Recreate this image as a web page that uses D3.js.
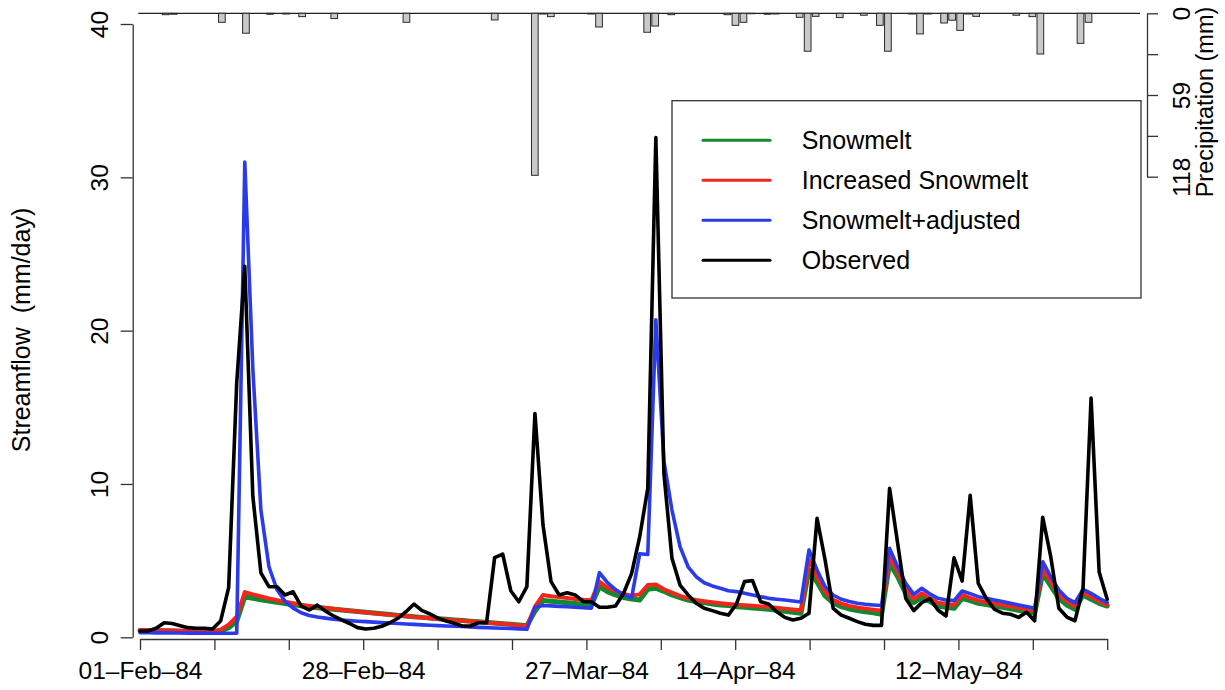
<!DOCTYPE html>
<html>
<head>
<meta charset="utf-8">
<script src="https://cdn.jsdelivr.net/npm/d3@7"></script>
<style>
	body { margin: 0; background: #fff; }
	svg { display: block; font-family: "Liberation Sans", Arial, Helvetica, sans-serif; }
	svg text { white-space: pre; }
	.axis path, .axis line { stroke: #333; stroke-width: 1.3; }
	.axis text { fill: #000; font-size: 24.5px; }
	.flow { fill: none; stroke-linejoin: round; stroke-linecap: round; }
</style>
</head>
<body>
<svg id="chart" width="1225" height="690"></svg>
<script>
// daily streamflow, 01-Feb-84 .. 31-May-84 (mm/day)
var observed = [
	0.41, 0.41, 0.59, 0.95, 0.90, 0.76, 0.63, 0.59, 0.59, 0.54,
	1.06, 3.24, 16.6, 24.2, 9.2, 4.2, 3.3, 3.3, 2.76, 2.97,
	2.04, 1.78, 2.10, 1.72, 1.39, 1.13, 0.90, 0.63, 0.54, 0.59,
	0.72, 0.95, 1.24, 1.67, 2.17, 1.74, 1.52, 1.24, 1.06, 0.91,
	0.74, 0.74, 0.95, 0.95, 5.2, 5.43, 3.04, 2.32, 3.3, 14.6,
	7.32, 3.63, 2.76, 2.91, 2.76, 2.32, 2.32, 1.96, 1.96, 2.04,
	2.87, 4.17, 6.56, 9.72, 32.6, 10.7, 5.15, 3.41, 2.76, 2.22,
	1.89, 1.74, 1.57, 1.45, 2.17, 3.63, 3.70, 2.32, 2.17, 1.67,
	1.30, 1.13, 1.24, 1.57, 7.76, 5.04, 1.89, 1.45, 1.24, 1.02,
	0.85, 0.78, 0.78, 9.72, 6.13, 2.54, 1.74, 2.26, 2.52, 1.78,
	1.39, 5.19, 3.67, 9.26, 3.52, 2.54, 1.83, 1.57, 1.50, 1.30,
	1.63, 1.08, 7.83, 5.24, 1.89, 1.32, 1.08, 3.2, 15.6, 4.26,
	2.48
];

var snowmelt = [
	0.45, 0.44, 0.43, 0.42, 0.41, 0.40, 0.39, 0.38, 0.37, 0.36,
	0.40, 0.62, 1.05, 2.65, 2.55, 2.45, 2.36, 2.28, 2.20, 2.12,
	2.05, 1.99, 1.93, 1.88, 1.83, 1.78, 1.73, 1.68, 1.63, 1.58,
	1.53, 1.48, 1.43, 1.39, 1.34, 1.30, 1.25, 1.21, 1.17, 1.13,
	1.09, 1.05, 1.01, 0.97, 0.93, 0.89, 0.85, 0.81, 0.76, 1.70,
	2.40, 2.35, 2.30, 2.25, 2.20, 2.15, 2.10, 3.30, 2.98, 2.76,
	2.60, 2.50, 2.43, 3.13, 3.20, 3.00, 2.76, 2.59, 2.43, 2.33,
	2.26, 2.17, 2.11, 2.07, 2.00, 1.96, 1.91, 1.87, 1.83, 1.76,
	1.70, 1.63, 1.57, 4.40, 3.60, 2.70, 2.25, 2.00, 1.85, 1.75,
	1.66, 1.60, 1.50, 4.83, 3.95, 2.87, 2.26, 2.60, 2.33, 2.04,
	1.96, 1.89, 2.54, 2.39, 2.22, 2.13, 2.04, 1.95, 1.86, 1.76,
	1.66, 1.57, 4.17, 3.35, 2.54, 2.11, 1.83, 2.76, 2.48, 2.22,
	2.04
];

var increasedSnowmelt = [
	0.48, 0.47, 0.46, 0.45, 0.44, 0.43, 0.42, 0.41, 0.40, 0.40,
	0.50, 0.82, 1.35, 2.95, 2.80, 2.66, 2.53, 2.42, 2.32, 2.22,
	2.12, 2.05, 1.98, 1.92, 1.86, 1.80, 1.74, 1.68, 1.62, 1.57,
	1.52, 1.47, 1.42, 1.38, 1.33, 1.29, 1.24, 1.20, 1.16, 1.12,
	1.08, 1.04, 1.00, 0.96, 0.92, 0.88, 0.83, 0.78, 0.70, 2.00,
	2.76, 2.68, 2.62, 2.56, 2.50, 2.45, 2.42, 3.63, 3.24, 3.02,
	2.82, 2.72, 2.80, 3.41, 3.45, 3.13, 2.91, 2.70, 2.54, 2.43,
	2.35, 2.28, 2.22, 2.17, 2.13, 2.09, 2.05, 2.01, 1.97, 1.92,
	1.87, 1.82, 1.76, 5.04, 3.95, 2.95, 2.45, 2.20, 2.05, 1.95,
	1.87, 1.80, 1.74, 5.26, 4.28, 3.20, 2.50, 2.87, 2.54, 2.26,
	2.17, 2.11, 2.76, 2.57, 2.39, 2.29, 2.20, 2.11, 2.02, 1.93,
	1.83, 1.74, 4.50, 3.63, 2.80, 2.33, 2.04, 2.91, 2.65, 2.37,
	2.11
];

var snowmeltAdjusted = [
	0.30, 0.30, 0.29, 0.29, 0.28, 0.28, 0.27, 0.27, 0.27, 0.26,
	0.26, 0.26, 0.26, 31.0, 17.5, 8.3, 4.6, 3.1, 2.35, 1.90,
	1.60, 1.42, 1.32, 1.25, 1.18, 1.13, 1.09, 1.05, 1.02, 0.99,
	0.96, 0.93, 0.90, 0.87, 0.84, 0.81, 0.79, 0.76, 0.74, 0.72,
	0.70, 0.67, 0.65, 0.63, 0.61, 0.59, 0.57, 0.55, 0.52, 1.96,
	2.07, 2.05, 2.02, 1.99, 1.96, 1.93, 1.90, 4.21, 3.56, 3.11,
	2.76, 2.60, 5.45, 5.40, 20.7, 11.5, 8.3, 5.91, 4.60, 3.95,
	3.56, 3.35, 3.20, 3.04, 2.98, 2.87, 2.76, 2.65, 2.54, 2.48,
	2.43, 2.37, 2.30, 5.70, 4.39, 3.30, 2.76, 2.48, 2.33, 2.22,
	2.15, 2.11, 2.07, 5.80, 4.60, 3.52, 2.80, 3.20, 2.83, 2.54,
	2.43, 2.39, 3.02, 2.85, 2.65, 2.55, 2.44, 2.33, 2.22, 2.11,
	2.00, 1.89, 4.93, 3.95, 3.09, 2.54, 2.26, 3.13, 2.87, 2.54,
	2.26
];

// daily precipitation (mm), drawn hanging from the top
var precipitation = [
	0, 0, 0, 1.0, 0.7, 0, 0, 0, 0, 0,
	6.5, 0, 0, 14.4, 0, 0, 0.7, 0, 0.5, 0,
	2.4, 0, 0, 0, 3.8, 0, 0, 0, 0, 0,
	0, 0, 0, 6.5, 0, 0, 0, 0, 0, 0,
	0, 0, 0, 0, 4.8, 0, 0, 0, 0, 117,
	0.5, 2.4, 0, 0, 0, 0, 0.5, 9.9, 0, 0,
	0, 0, 0, 13.7, 9.2, 0, 1.0, 0, 0, 0,
	0, 0, 0, 1.0, 8.7, 6.5, 0.3, 0, 0.7, 0.5,
	0, 0, 2.9, 27.4, 2.2, 0, 0, 3.1, 0, 0,
	1.4, 0, 8.7, 27.4, 0, 0, 0.5, 14.9, 0.5, 0,
	7.0, 5.0, 12.3, 0.5, 2.2, 0, 0, 0, 0, 1.4,
	0, 2.4, 29.4, 0, 0, 0, 0, 21.7, 6.5, 0,
	0, 0, 0, 0, 0
];

var dateTickLabels = ['01\u2013Feb\u201384', '', '', '28\u2013Feb\u201384', '', '', '27\u2013Mar\u201384',
	'', '14\u2013Apr\u201384', '', '', '12\u2013May\u201384', '', ''];
var flowTicks = [0, 10, 20, 30, 40];
var precipTicks = [0, 29.5, 59, 88.5, 118];
var precipTickLabels = ['0', '', '59', '', '118'];

var seriesNames = ['Snowmelt', 'Increased Snowmelt', 'Snowmelt+adjusted', 'Observed'];
var seriesColors = ['#12892f', '#f5251c', '#2b3bec', '#000000'];
var seriesWidths = [5, 4, 3.6, 3.6];

window.onload = function() {
	var svg = d3.select('#chart');
	svg.append('rect').attr('width', 1225).attr('height', 690).attr('fill', '#fff');

	var lastDay = observed.length - 1;
	var x = d3.scaleLinear().domain([0, lastDay]).range([140, 1107.2]);
	var y = d3.scaleLinear().domain([0, 40]).range([637.3, 24]);

	var barX = d3.scaleBand()
		.domain(d3.range(precipitation.length))
		.range([138.3, 1140])
		.paddingInner(1 / 6)
		.paddingOuter(0);
	var barY = d3.scaleLinear().domain([0, 118]).range([13.3, 176.7]);

	// x ticks: 14 evenly spaced dates over the record
	var tickDays = dateTickLabels.map(function(d, i) {
		return i * lastDay / (dateTickLabels.length - 1);
	});

	var xAxis = svg.append('g').attr('class', 'axis')
		.attr('transform', 'translate(0,639)')
		.call(d3.axisBottom(x).tickValues(tickDays).tickSize(11).tickSizeOuter(0)
			.tickFormat(function(d, i) { return dateTickLabels[i]; }));
	xAxis.selectAll('text').attr('y', 40).attr('dy', 0);

	var yAxis = svg.append('g').attr('class', 'axis')
		.attr('transform', 'translate(132.7,0)')
		.call(d3.axisLeft(y).tickValues(flowTicks).tickSize(12).tickSizeOuter(0));
	yAxis.selectAll('text')
		.attr('x', 0).attr('dy', 0)
		.attr('text-anchor', 'middle')
		.attr('transform', 'translate(-25,0) rotate(-90)');

	var pAxis = svg.append('g').attr('class', 'axis')
		.attr('transform', 'translate(1147,0)')
		.call(d3.axisRight(barY).tickValues(precipTicks).tickSize(11).tickSizeOuter(0)
			.tickFormat(function(d, i) { return precipTickLabels[i]; }));
	pAxis.selectAll('text')
		.attr('x', 0).attr('dy', 0)
		.attr('text-anchor', 'middle')
		.attr('transform', 'translate(43,0) rotate(-90)');

	svg.append('text')
		.attr('transform', 'translate(30,330) rotate(-90)')
		.attr('text-anchor', 'middle')
		.attr('font-size', 25)
		.text('Streamflow  (mm/day)');

	svg.append('text')
		.attr('transform', 'translate(1213,102) rotate(-90)')
		.attr('text-anchor', 'middle')
		.attr('font-size', 23.5)
		.text('Precipitation (mm)');

	// streamflow lines, observed on top
	var line = d3.line()
		.x(function(d, i) { return x(i); })
		.y(function(d) { return y(d); });

	var allSeries = [snowmelt, increasedSnowmelt, snowmeltAdjusted, observed];
	allSeries.forEach(function(s, k) {
		svg.append('path')
			.attr('class', 'flow')
			.attr('d', line(s))
			.attr('stroke', seriesColors[k])
			.attr('stroke-width', seriesWidths[k]);
	});

	// precipitation bars
	svg.append('line')
		.attr('x1', barX(0))
		.attr('x2', barX(precipitation.length - 1) + barX.bandwidth())
		.attr('y1', barY(0)).attr('y2', barY(0))
		.attr('stroke', '#222').attr('stroke-width', 1.3);

	svg.append('g').selectAll('rect')
		.data(precipitation.map(function(v, k) { return {k: k, v: v}; })
			.filter(function(d) { return d.v > 0; }))
		.enter()
			.append('rect')
				.attr('x', function(d) { return barX(d.k); })
				.attr('y', barY(0))
				.attr('width', barX.bandwidth())
				.attr('height', function(d) { return barY(d.v) - barY(0); })
				.attr('fill', '#c9c9c9')
				.attr('stroke', '#2a2a2a')
				.attr('stroke-width', 1);

	// legend
	var legend = svg.append('g');
	legend.append('rect')
		.attr('x', 672).attr('y', 100.7)
		.attr('width', 469).attr('height', 197.3)
		.attr('fill', '#fff')
		.attr('stroke', '#333').attr('stroke-width', 1.3);

	seriesNames.forEach(function(name, k) {
		var ly = 140.3 + k * 40;
		legend.append('line')
			.attr('x1', 703).attr('x2', 770)
			.attr('y1', ly).attr('y2', ly)
			.attr('stroke', seriesColors[k])
			.attr('stroke-width', 3)
			.attr('stroke-linecap', 'round');
		legend.append('text')
			.attr('x', 801.7).attr('y', ly + 9)
			.attr('font-size', 25)
			.text(name);
	});
}
</script>
</body>
</html>
